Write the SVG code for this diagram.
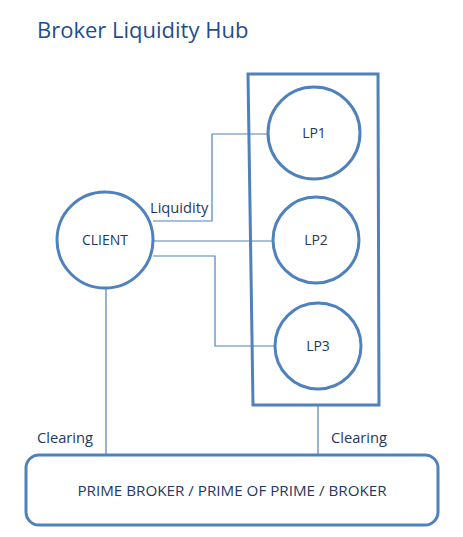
<svg xmlns="http://www.w3.org/2000/svg" width="463" height="537" viewBox="0 0 463 537">
<style>
.node{fill:#fff;stroke:#4f81bd;stroke-width:3}
.conn{fill:none;stroke:#4f81bd;stroke-width:1.2}
text{font-family:"Open Sans","Liberation Sans",sans-serif;fill:#1f3864}
.lbl{font-size:14.7px}
.nl{font-size:14px;text-anchor:middle}
</style>
<rect width="463" height="537" fill="#fff"/>
<text x="37" y="38" style="font-size:22px;fill:#1f4e8c">Broker Liquidity Hub</text>
<g id="connectors">
<polyline class="conn" points="153,221 212,221 212,134 267,134"/>
<line class="conn" x1="154" y1="241" x2="274" y2="241"/>
<polyline class="conn" points="153,256 215,256 215,346 275,346"/>
<line class="conn" x1="106" y1="289" x2="106" y2="455"/>
<line class="conn" x1="318" y1="405" x2="318" y2="455"/>
</g>
<g id="lp-group"><polygon class="node" points="248,74 378,74 379,405 253,405" style="fill:none"/></g>
<g id="client"><circle class="node" cx="105" cy="240" r="48"/><text class="nl" x="105" y="245">CLIENT</text></g>
<g id="lp1"><circle class="node" cx="314" cy="133" r="46"/><text class="nl" x="314" y="138">LP1</text></g>
<g id="lp2"><circle class="node" cx="316" cy="240" r="43"/><text class="nl" x="316" y="245">LP2</text></g>
<g id="lp3"><circle class="node" cx="318" cy="346" r="43"/><text class="nl" x="318" y="351">LP3</text></g>
<g id="broker"><rect class="node" x="26" y="455" width="412" height="70" rx="13"/><text class="nl" x="232" y="496" style="font-size:15.2px">PRIME BROKER / PRIME OF PRIME / BROKER</text></g>
<text class="lbl" x="150" y="213">Liquidity</text>
<text class="lbl" x="37" y="443">Clearing</text>
<text class="lbl" x="331" y="443">Clearing</text>
</svg>
